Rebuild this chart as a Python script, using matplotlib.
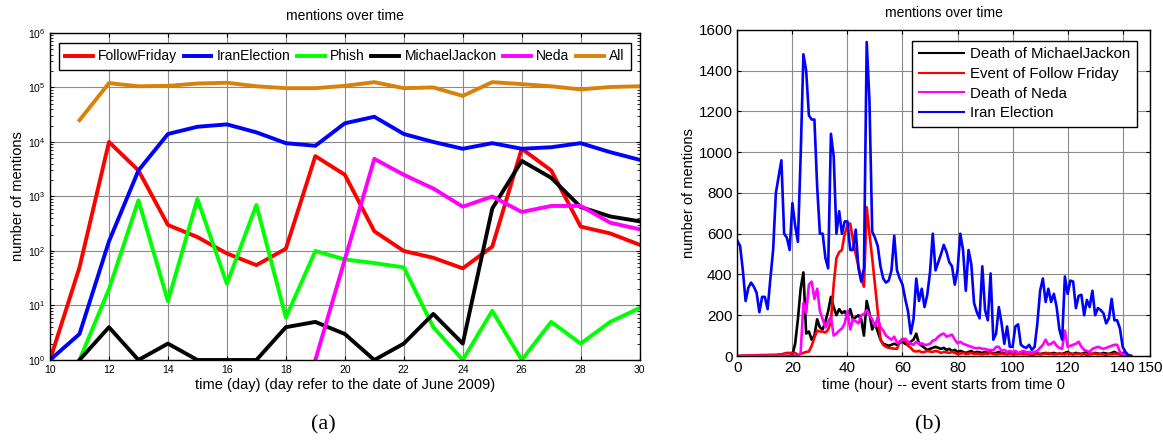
import numpy as np
import matplotlib
matplotlib.use('Agg')
import matplotlib.pyplot as plt

plt.rcParams['font.family'] = ['Liberation Sans', 'DejaVu Sans']

# ---- panel (a): daily mentions, June 2009 ----
days = np.arange(10, 31)
follow_friday = [1, 50, 10000, 3000, 300, 180, 90, 55, 110, 5500, 2500, 230,
                 100, 75, 48, 120, 7500, 3000, 280, 210, 130]
iran_election = [1, 3, 150, 3000, 14000, 19000, 21000, 15000, 9500, 8500,
                 22000, 29000, 14000, 10000, 7500, 9500, 7500, 8000, 9500,
                 6500, 4700]
phish = [np.nan, 1, 20, 850, 12, 900, 25, 700, 6, 100, 70, 60, 50, 4, 1, 8, 1,
         5, 2, 5, 9]
michael_jackon = [np.nan, 1, 4, 1, 2, 1, 1, 1, 4, 5, 3, 1, 2, 7, 2, 600, 4500,
                  2200, 640, 430, 350]
neda = [np.nan, np.nan, np.nan, np.nan, np.nan, np.nan, np.nan, np.nan, np.nan,
        1, 70, 4900, 2500, 1400, 650, 1000, 520, 670, 670, 330, 250]
all_mentions = [np.nan, 25000, 120000, 105000, 107000, 118000, 122000, 105000,
                97000, 97000, 107000, 125000, 97000, 100000, 70000, 125000,
                115000, 105000, 92000, 102000, 105000]

# ---- panel (b): hourly mentions after event start ----
hours = np.arange(0, 144)
mj_hourly = [
    0, 0, 0, 0, 0, 0, 0, 0, 0, 0,
    0, 0, 0, 0, 0, 0, 0, 0, 0, 0,
    5, 60, 180, 330, 410, 110, 120, 80, 100, 180,
    140, 130, 170, 220, 290, 240, 200, 230, 210, 220,
    190, 230, 180, 190, 200, 180, 100, 270, 210, 130,
    160, 120, 80, 60, 55, 50, 55, 60, 55, 65,
    70, 60, 55, 70, 80, 110, 60, 50, 40, 30,
    35, 40, 45, 40, 35, 40, 30, 35, 25, 30,
    20, 25, 20, 15, 20, 25, 15, 20, 18, 15,
    20, 15, 18, 12, 15, 20, 15, 12, 10, 15,
    12, 15, 10, 12, 15, 10, 12, 10, 15, 12,
    10, 12, 15, 10, 12, 15, 10, 12, 10, 15,
    20, 12, 10, 15, 12, 10, 15, 20, 12, 10,
    15, 12, 10, 15, 12, 10, 15, 20, 12, 10,
    15, 8, 3, 0]
ff_hourly = [
    0, 0, 2, 2, 3, 3, 3, 4, 4, 5,
    5, 5, 6, 6, 6, 8, 8, 12, 15, 15,
    15, 15, 5, 10, 15, 20, 22, 50, 90, 125,
    120, 120, 115, 130, 170, 350, 480, 510, 520, 600,
    640, 650, 570, 500, 440, 380, 340, 730, 600, 480,
    350, 220, 80, 55, 45, 40, 38, 36, 35, 70,
    85, 75, 50, 40, 25, 22, 25, 18, 20, 25,
    22, 20, 25, 22, 15, 20, 18, 15, 20, 15,
    10, 12, 15, 10, 12, 15, 10, 12, 10, 8,
    12, 10, 15, 10, 8, 10, 12, 10, 8, 10,
    10, 8, 10, 12, 8, 10, 8, 5, 8, 10,
    8, 10, 12, 15, 10, 8, 10, 12, 10, 8,
    15, 10, 8, 10, 12, 8, 10, 5, 8, 10,
    12, 8, 10, 8, 5, 10, 8, 12, 10, 8,
    5, 3, 2, 0]
neda_hourly = [
    0, 0, 0, 0, 0, 0, 0, 0, 0, 0,
    0, 0, 0, 0, 0, 0, 0, 0, 0, 0,
    0, 0, 0, 15, 260, 210, 350, 365, 280, 330,
    220, 180, 140, 170, 190, 100, 110, 125, 135, 160,
    220, 130, 180, 170, 160, 200, 205, 225, 200, 180,
    145, 190, 140, 125, 100, 90, 80, 95, 65, 70,
    80, 85, 70, 60, 55, 70, 60, 62, 55, 55,
    60, 75, 80, 95, 105, 110, 95, 100, 105, 80,
    62, 70, 60, 55, 50, 45, 40, 38, 40, 35,
    35, 30, 30, 28, 45, 45, 25, 30, 20, 25,
    20, 25, 15, 20, 25, 18, 20, 15, 20, 25,
    40, 55, 80, 55, 60, 70, 50, 40, 35, 125,
    45, 50, 55, 60, 70, 45, 30, 25, 20, 35,
    40, 45, 40, 35, 40, 45, 50, 55, 55, 20,
    10, 5, 0, 0]
iran_hourly = [
    565, 540, 420, 270, 335, 360, 340, 310, 215, 290,
    290, 230, 380, 520, 800, 880, 960, 600, 580, 520,
    750, 640, 560, 980, 1480, 1400, 1180, 1160, 1160, 830,
    600, 600, 480, 430, 1090, 980, 600, 710, 600, 660,
    660, 520, 520, 620, 430, 365, 430, 1540, 1250, 610,
    580, 540, 440, 380, 360, 370, 420, 590, 420, 380,
    350, 280, 220, 110, 180, 380, 270, 330, 240, 300,
    410, 600, 420, 460, 500, 545, 510, 460, 440, 350,
    420, 600, 520, 320, 520, 450, 260, 215, 185, 440,
    225, 175, 405, 80, 110, 240, 160, 60, 145, 45,
    45, 145, 155, 55, 45, 40, 55, 30, 45, 160,
    320, 380, 265, 330, 265, 305, 240, 130, 80, 390,
    305, 370, 365, 235, 295, 300, 200, 275, 240, 320,
    200, 235, 225, 210, 160, 185, 280, 175, 175, 135,
    45, 20, 5, 0]


def _style_axis(axis, tick_size):
  axis.grid(True, which='major', color='#8a8a8a', linewidth=0.8)
  axis.tick_params(which='both', direction='in', top=True, right=True,
                   labelsize=tick_size, length=3, color='black')
  for spine in axis.spines.values():
    spine.set_linewidth(1.0)
  axis.set_axisbelow(True)


figure = plt.figure(figsize=(11.63, 4.45), dpi=100)

# panel (a)
ax_a = figure.add_axes([0.043, 0.191, 0.507, 0.735])
ax_a.plot(days, follow_friday, color='#ff0000', linewidth=2.8, label='FollowFriday')
ax_a.plot(days, iran_election, color='#0000ff', linewidth=2.8, label='IranElection')
ax_a.plot(days, phish, color='#00ff00', linewidth=2.8, label='Phish')
ax_a.plot(days, michael_jackon, color='black', linewidth=2.8, label='MichaelJackon')
ax_a.plot(days, neda, color='#ff00ff', linewidth=2.8, label='Neda')
ax_a.plot(days, all_mentions, color='#d9820a', linewidth=2.8, label='All')
ax_a.set_yscale('log')
ax_a.set_xlim(10, 30)
ax_a.set_ylim(1, 1e6)
ax_a.set_xticks(np.arange(10, 31, 2))
ax_a.set_yticks([1e0, 1e1, 1e2, 1e3, 1e4, 1e5, 1e6])
_style_axis(ax_a, 7.5)
ax_a.tick_params(which='minor', length=2)
ax_a.set_title('mentions over time', fontsize=10, pad=9)
ax_a.set_xlabel('time (day) (day refer to the date of June 2009)', fontsize=10.5, labelpad=2)
ax_a.set_ylabel('number of mentions', fontsize=10.5, labelpad=2)
legend_a = ax_a.legend(loc='upper center', ncol=6, mode='expand',
                       bbox_to_anchor=(0.003, 0.99, 0.994, 0.0),
                       fontsize=10, handlelength=2.0, handletextpad=0.4,
                       columnspacing=0.6, borderpad=0.45, fancybox=False,
                       framealpha=1, edgecolor='black')
legend_a.get_frame().set_linewidth(1.0)

# panel (b)
ax_b = figure.add_axes([0.634, 0.2, 0.355, 0.733])
ax_b.plot(hours, mj_hourly, color='black', linewidth=1.9, label='Death of MichaelJackon')
ax_b.plot(hours, ff_hourly, color='#ff0000', linewidth=1.9, label='Event of Follow Friday')
ax_b.plot(hours, neda_hourly, color='#ff00ff', linewidth=1.9, label='Death of Neda')
ax_b.plot(hours, iran_hourly, color='#0000ff', linewidth=1.9, label='Iran Election')
ax_b.set_xlim(0, 150)
ax_b.set_ylim(0, 1600)
ax_b.set_xticks([0, 20, 40, 60, 80, 100, 120, 140, 150])
ax_b.set_yticks(np.arange(0, 1601, 200))
_style_axis(ax_b, 11)
ax_b.set_title('mentions over time', fontsize=10, pad=9)
ax_b.set_xlabel('time (hour) -- event starts from time 0', fontsize=10.5, labelpad=2)
ax_b.set_ylabel('number of mentions', fontsize=10.5, labelpad=2)
legend_b = ax_b.legend(loc='upper right', bbox_to_anchor=(0.985, 0.99),
                       fontsize=10.8, handlelength=3.0, handletextpad=0.4,
                       labelspacing=0.38, borderpad=0.45, fancybox=False,
                       framealpha=1, edgecolor='black')
legend_b.get_frame().set_linewidth(1.0)
for handle in legend_b.get_lines():
  handle.set_linewidth(1.5)

figure.text(0.278, 0.045, '(a)', family=['Liberation Serif', 'DejaVu Serif'],
            fontsize=16, ha='center', va='center')
figure.text(0.798, 0.045, '(b)', family=['Liberation Serif', 'DejaVu Serif'],
            fontsize=16, ha='center', va='center')

figure.savefig('out.png', dpi=100)
plt.close(figure)
